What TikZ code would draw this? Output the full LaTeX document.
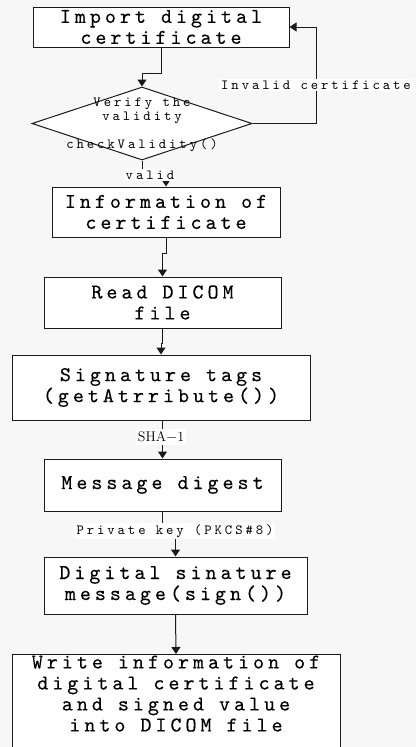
\documentclass[tikz,border=0pt]{standalone}
\usepackage{fontspec}
\usetikzlibrary{arrows.meta,shapes.geometric}
\newfontfamily\dfont[LetterSpace=19,FakeBold=0.25]{lmmono10-regular.otf}
\newfontfamily\sfont[LetterSpace=21]{lmmono10-regular.otf}
\definecolor{bgcol}{HTML}{F7F7F7}
\definecolor{linecol}{HTML}{1A1A1A}
\begin{document}
\begin{tikzpicture}[x=1pt,y=-1pt,
  box/.style={draw=linecol,line width=1pt,fill=white,inner sep=0pt,align=center,
    font=\dfont\fontsize{21}{21}\selectfont},
  dia/.style={diamond,draw=linecol,line width=1pt,fill=white,inner sep=0pt,aspect=3},
  small/.style={font=\sfont\fontsize{14}{13.5}\selectfont,align=center,inner sep=0pt},
  lab/.style={small,fill=white,inner xsep=2pt,inner ysep=2pt},
  arr/.style={draw=linecol,line width=1pt,-{Triangle[width=9pt,length=7pt]}},
  ln/.style={draw=linecol,line width=1pt}]
\useasboundingbox (0,0) rectangle (416,747);
\clip (0,0) rectangle (416,747);
\fill[bgcol] (0,0) rectangle (416,747);

% boxes
\node[box,minimum width=256pt,minimum height=40pt] (b1) at (161,27) {Import digital\\certificate};
\node[dia,minimum width=220pt,minimum height=73pt] (dm) at (142,123.5) {};
\node[small] (dt) at (142,125) {Verify the\\validity\\[15pt]checkValidity()};
\node[box,minimum width=228pt,minimum height=50pt] (b2) at (166,212) {Information of\\certificate};
\node[box,minimum width=237pt,minimum height=51pt] (b3) at (162.5,302.5) {Read DICOM\\file};
\node[box,minimum width=298pt,minimum height=65pt] (b4) at (161,387.5) {Signature tags\\(getAtrribute())};
\node[box,minimum width=237pt,minimum height=52pt] (b5) at (162.5,485) {Message digest};
\node[box,minimum width=263pt,minimum height=57pt] (b6) at (175.5,585.5) {Digital sinature\\message(sign())};
\node[box,minimum width=328pt,minimum height=140pt,anchor=north] (b7) at (176,654) {};
\node[box,draw=none,fill=none,anchor=north] (t7) at (176,655) {Write information of\\digital certificate\\and signed value\\into DICOM file};

% connectors
\draw[arr] (b1.south) -- ++(0,26) -| (dm.north);
\draw[arr] (dm.south) -- ++(0,12) -| (b2.north);
\draw[arr] (b2.south) -- ++(0,16) -| (b3.north);
\draw[arr] (b3.south) -- ++(0,15) -| (b4.north);
\draw[arr] (b5.north |- b4.south) -- (b5.north);
\draw[arr] (b5.south) -- ++(0,14) -| (b6.north);
\draw[arr] (b6.south) -- (b7.north);
\draw[arr] (dm.east) -- ++(64,0) coordinate (lp) |- (b1.east);

% labels
\node[lab] (l1) at (316,85) {Invalid certificate};
\node[lab] (l2) at (150,175) {valid};
\node[lab,font=\fontsize{14}{16}\selectfont] (l3) at (161,437) {SHA$-$1};
\node[lab] (l4) at (175,531) {Private key (PKCS\#8)};
\end{tikzpicture}
\end{document}
